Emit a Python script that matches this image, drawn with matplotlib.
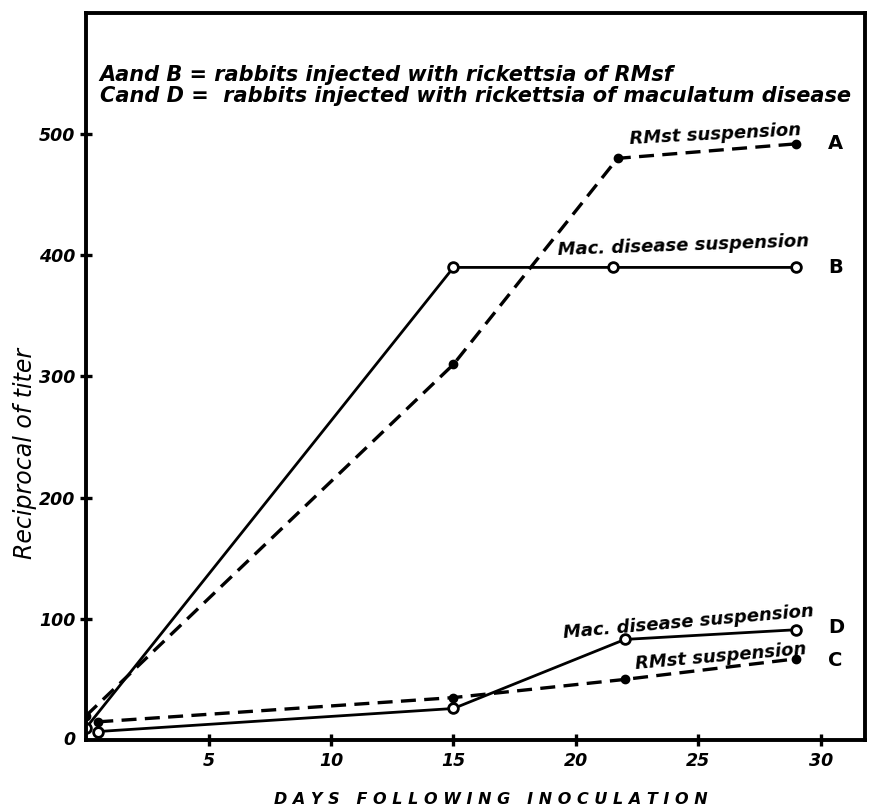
import numpy as np
import matplotlib.pyplot as plt

# values
a_days = [0, 15, 21.7, 29]
a_titer = [20, 310, 480, 492]
b_days = [0, 15, 21.5, 29]
b_titer = [10, 390, 390, 390]
c_days = [0.5, 15, 22, 29]
c_titer = [15, 35, 50, 67]
d_days = [0.5, 15, 22, 29]
d_titer = [7, 26, 83, 91]

x_ticks = [5, 10, 15, 20, 25, 30]
y_ticks = [100, 200, 300, 400, 500]

font = dict(family='DejaVu Sans', weight='bold', style='italic')

fig = plt.figure(figsize=(8.69, 8.09), dpi=100)
ax = fig.add_axes([0.099, 0.0853, 0.8964, 0.8987])
ax.set_xlim(0, 31.8)
ax.set_ylim(0, 600)

dash = (0, (4.5, 2.5))
ax.plot(a_days, a_titer, color='k', lw=2.4, linestyle=dash,
        marker='o', ms=6, mfc='k', mec='k')
ax.plot(b_days, b_titer, color='k', lw=2.0,
        marker='o', ms=7, mfc='w', mec='k', mew=2)
ax.plot(c_days, c_titer, color='k', lw=2.4, linestyle=dash,
        marker='o', ms=6, mfc='k', mec='k')
ax.plot(d_days, d_titer, color='k', lw=2.0,
        marker='o', ms=7, mfc='w', mec='k', mew=2)

for s in ax.spines.values():
    s.set_linewidth(2.8)

ax.set_xticks(x_ticks)
ax.set_yticks(y_ticks)
ax.set_xticklabels([str(t) for t in x_ticks], fontsize=12.5, **font)
ax.set_yticklabels([str(t) for t in y_ticks], fontsize=12.5, **font)
ax.tick_params(direction='inout', length=9, width=2.4)
ax.tick_params(axis='x', pad=4)
ax.tick_params(axis='y', pad=3)
ax.text(-0.45, 0, '0', ha='right', va='center', fontsize=12.5, **font)

# series labels
for name, yv in [('A', 492), ('B', 390), ('D', 93), ('C', 66)]:
    ax.text(30.3, yv, name, ha='left', va='center', fontsize=14,
            family='DejaVu Sans', weight='bold')

ax.text(25.7, 500, 'RMst suspension', ha='center', va='center', fontsize=13, rotation=3, **font)
ax.text(24.4, 408, 'Mac. disease suspension', ha='center', va='center', fontsize=13, rotation=2, **font)
ax.text(24.6, 97, 'Mac. disease suspension', ha='center', va='center', fontsize=13, rotation=5, **font)
ax.text(25.9, 69, 'RMst suspension', ha='center', va='center', fontsize=13, rotation=5, **font)

ax.text(0.55, 540, 'Aand B = rabbits injected with rickettsia of RMsf\n'
        'Cand D =  rabbits injected with rickettsia of maculatum disease',
        ha='left', va='center', fontsize=15, linespacing=1.05, **font)

fig.text(0.029, 0.44, 'Reciprocal of titer', rotation=90, ha='center', va='center',
         fontsize=17, family='DejaVu Sans', style='italic')
fig.text(0.565, 0.012, 'D A Y S   F O L L O W I N G   I N O C U L A T I O N', ha='center', va='center',
         fontsize=11.5, **font)

fig.savefig('out.png', dpi=100)
